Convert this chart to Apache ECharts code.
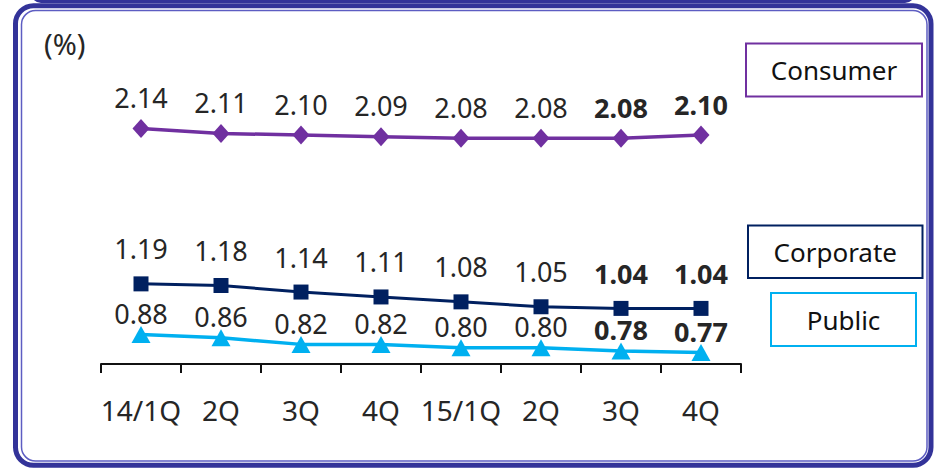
<!DOCTYPE html>
<html>
<head>
<meta charset="utf-8">
<script src="https://cdn.jsdelivr.net/npm/echarts@6/dist/echarts.min.js"></script>
<style>
  html, body { margin: 0; padding: 0; background: #ffffff; }
  #chart { width: 934px; height: 470px; }
</style>
</head>
<body>
<div id="chart"></div>
<script>
// Quarterly loan yields by segment (%)
const categories = ['14/1Q', '2Q', '3Q', '4Q', '15/1Q', '2Q', '3Q', '4Q'];
const consumer  = [2.14, 2.11, 2.10, 2.09, 2.08, 2.08, 2.08, 2.10];
const corporate = [1.19, 1.18, 1.14, 1.11, 1.08, 1.05, 1.04, 1.04];
const publicSec = [0.88, 0.86, 0.82, 0.82, 0.80, 0.80, 0.78, 0.77];
// Latest quarters are printed in bold
const boldIndexes = [6, 7];
const seriesNames = ['Consumer', 'Corporate', 'Public'];

const FONT = '"Noto Sans", "DejaVu Sans", sans-serif';
const TEXT = '#262626';
const NAVY_FRAME = '#333399';

function points(values, offsetY) {
  return values.map((v, i) => ({
    value: v,
    label: {
      fontWeight: boldIndexes.includes(i) ? 'bold' : 'normal',
      offset: [0, offsetY]
    }
  }));
}

function lineSeries(name, values, color, symbol, size, width, offsetY) {
  return {
    name: name,
    type: 'line',
    data: points(values, offsetY),
    symbol: symbol,
    symbolSize: size,
    showAllSymbol: true,
    lineStyle: { color: color, width: width },
    itemStyle: { color: color },
    label: {
      show: true,
      position: 'inside',
      color: TEXT,
      fontFamily: FONT,
      fontSize: 27,
      lineHeight: 27,
      formatter: p => p.value.toFixed(2)
    },
    emphasis: { disabled: true },
    z: 3
  };
}

function legendBox(name, x, y, w, h, color) {
  return {
    type: 'group',
    children: [
      {
        type: 'rect',
        shape: { x: x, y: y, width: w, height: h },
        style: { fill: '#ffffff', stroke: color, lineWidth: 2 }
      },
      {
        type: 'text',
        x: x + w / 2,
        y: y + h / 2,
        style: {
          text: name,
          font: '26px ' + FONT,
          fill: '#111111',
          align: 'center',
          verticalAlign: 'middle'
        }
      }
    ]
  };
}

const chart = echarts.init(document.getElementById('chart'), null, { renderer: 'svg' });

chart.setOption({
  animation: false,
  backgroundColor: '#ffffff',
  grid: { left: 101, right: 193, top: 86, bottom: 106 },
  xAxis: {
    type: 'category',
    data: categories,
    boundaryGap: true,
    axisLine: { show: true, lineStyle: { color: '#111111', width: 2 } },
    axisTick: { show: true, length: 9, lineStyle: { color: '#111111', width: 2 } },
    axisLabel: {
      color: TEXT,
      fontFamily: FONT,
      fontSize: 28,
      lineHeight: 28,
      margin: 32,
      interval: 0
    },
    splitLine: { show: false }
  },
  yAxis: {
    type: 'value',
    min: 0.7,
    max: 2.4,
    show: false,
    splitLine: { show: false }
  },
  series: [
    lineSeries(seriesNames[0], consumer, '#7030A0', 'diamond', [17, 19], 3.5, -31),
    lineSeries(seriesNames[1], corporate, '#002060', 'rect', 15, 3, -35),
    lineSeries(seriesNames[2], publicSec, '#00B0F0', 'triangle', [19, 17], 3.5, -21)
  ],
  graphic: [
    // top band of the panel above
    {
      type: 'rect',
      shape: { x: 31, y: -20, width: 884, height: 23, r: 10 },
      style: { fill: NAVY_FRAME }
    },
    // outer frame
    {
      type: 'rect',
      shape: { x: 15.5, y: 5.75, width: 915.5, height: 459.5, r: 18 },
      style: { fill: 'none', stroke: NAVY_FRAME, lineWidth: 5 }
    },
    // inner frame line
    {
      type: 'rect',
      shape: { x: 21.5, y: 10.5, width: 905.5, height: 450.5, r: 14 },
      style: { fill: 'none', stroke: '#5d5dc2', lineWidth: 1.5 }
    },
    {
      type: 'text',
      x: 44,
      y: 43,
      style: {
        text: '(%)',
        font: '29px ' + FONT,
        fill: TEXT,
        verticalAlign: 'middle'
      }
    },
    legendBox(seriesNames[0], 746, 43.5, 176, 53, '#7030A0'),
    legendBox(seriesNames[1], 748, 225.5, 174.5, 52.5, '#002060'),
    legendBox(seriesNames[2], 771, 293, 145, 53, '#00B0F0')
  ]
});
</script>
</body>
</html>
